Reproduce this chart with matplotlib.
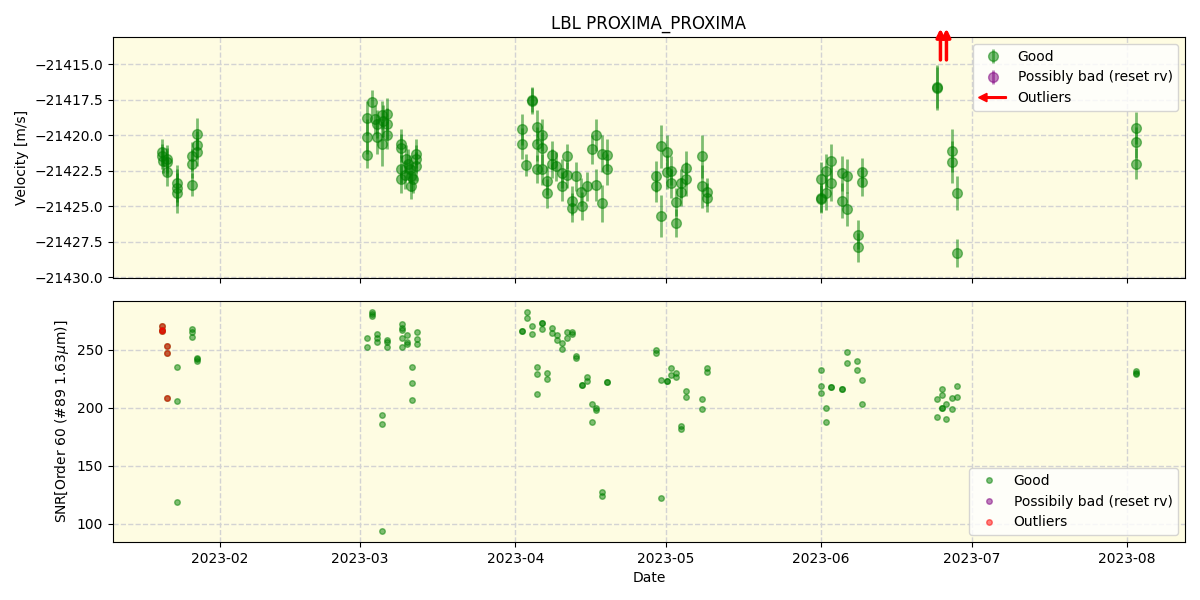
import numpy as np
import pandas as pd
import matplotlib
matplotlib.use("Agg")
import matplotlib.pyplot as plt
import matplotlib.dates as mdates
import matplotlib.transforms as mtransforms
from matplotlib.patches import FancyArrow
from matplotlib.legend_handler import HandlerPatch

BASE = "2023-01-01"

# ---- velocity panel (day offset from 2023-01-01, rv [m/s], error [m/s]) ----
rv_days = [19.4, 19.4, 19.6, 20.4, 20.4, 20.5, 22.4, 22.4, 22.4, 25.5, 25.5, 25.5, 26.4, 26.4, 26.4,
           60.3, 60.3, 60.3, 61.4, 61.9, 62.3, 62.3, 63.3, 63.3, 63.6, 64.4, 64.4, 64.4,
           67.2, 67.2, 67.2, 67.2, 67.9, 68.2, 68.5, 68.9, 69.2, 69.5, 69.2, 70.2, 70.2, 70.2,
           91.35, 91.35, 92.05, 93.25, 93.25, 94.25, 94.25, 94.25, 95.35, 95.35, 95.35, 96.35, 96.35,
           97.35, 97.35, 98.15, 99.25, 99.25, 100.25, 100.25, 101.25, 101.25, 102.15, 103.15, 103.35,
           104.25, 105.35, 106.15, 106.15, 107.25, 107.25, 108.25, 108.25,
           118.1, 118.1, 119.0, 119.0, 120.2, 120.2, 121.0, 121.1, 122.1, 122.1, 123.0, 123.1,
           124.0, 124.0, 127.2, 127.2, 128.2, 128.2,
           151.05, 151.05, 151.05, 151.95, 151.95, 153.05, 153.05, 155.15, 155.15, 156.25, 156.25,
           158.25, 158.25, 159.15, 159.15,
           174.1, 174.1, 177.1, 177.1, 178.1, 178.1,
           213.8, 213.8, 213.8]
rv_vals = [-21421.2, -21421.5, -21421.8, -21421.7, -21421.9, -21422.6, -21423.4, -21423.7, -21424.1,
           -21421.5, -21422.0, -21423.5, -21419.9, -21420.7, -21421.2,
           -21418.8, -21420.1, -21421.4, -21417.7, -21418.9, -21419.2, -21420.1, -21418.6, -21420.6,
           -21419.0, -21418.5, -21419.2, -21420.0,
           -21420.6, -21420.9, -21422.4, -21423.1, -21422.8, -21421.7, -21422.0, -21422.4, -21422.9,
           -21423.1, -21423.6, -21421.3, -21421.7, -21422.2,
           -21419.6, -21420.6, -21422.1, -21417.5, -21417.6, -21419.4, -21420.6, -21422.4,
           -21420.0, -21420.9, -21422.4, -21423.2, -21424.1,
           -21421.4, -21422.0, -21422.2, -21422.7, -21423.6, -21421.5, -21422.8, -21424.6, -21425.1,
           -21422.9, -21424.0, -21425.0,
           -21423.6, -21421.0, -21420.0, -21423.5, -21421.3, -21424.8, -21421.4, -21422.4,
           -21422.9, -21423.6, -21420.8, -21425.7, -21421.2, -21422.6, -21423.4, -21422.5,
           -21424.7, -21426.2, -21423.4, -21424.0,
           -21422.3, -21423.1, -21421.5, -21423.6, -21424.0, -21424.4,
           -21423.1, -21424.4, -21424.5, -21422.5, -21424.1, -21421.8, -21423.4, -21422.7, -21424.6,
           -21422.9, -21425.2, -21427.0, -21427.9, -21422.6, -21423.3,
           -21416.6, -21416.7, -21421.1, -21421.9, -21424.1, -21428.3,
           -21419.5, -21420.5, -21422.0]
rv_errs = [0.9, 0.9, 0.9, 1.0, 1.0, 1.0, 1.3, 1.3, 1.4, 1.0, 1.0, 0.8, 1.1, 1.0, 1.0,
           1.2, 1.2, 0.9, 0.9, 1.0, 1.0, 1.2, 1.0, 1.6, 1.1, 1.1, 1.1, 1.0,
           1.0, 1.0, 1.0, 1.0, 1.0, 1.0, 1.0, 1.0, 1.0, 1.0, 0.9, 1.0, 1.0, 1.0,
           1.1, 1.1, 0.8, 0.9, 0.9, 1.2, 1.2, 1.0, 1.1, 1.1, 1.1, 1.0, 1.0,
           1.0, 1.0, 1.0, 1.0, 1.0, 0.9, 0.9, 1.0, 1.0, 1.0, 1.0, 1.0,
           1.0, 1.0, 1.1, 1.1, 1.3, 1.3, 1.1, 1.1,
           1.1, 1.1, 1.5, 1.5, 1.2, 1.2, 1.0, 1.0, 1.0, 1.0, 1.0, 1.0,
           1.2, 1.2, 1.5, 1.5, 1.0, 1.0,
           1.2, 1.0, 1.0, 1.2, 1.2, 1.2, 1.2, 1.2, 1.2, 1.2, 1.2, 1.0, 1.0, 1.0, 1.0,
           1.5, 1.5, 1.5, 1.5, 1.2, 1.0,
           1.1, 1.1, 1.1]

# outliers above the plotted velocity range (drawn as arrows)
outlier_days = [174.8, 176.0]

# ---- SNR panel (day offset, SNR) ----
snr_days = [19.5, 19.5, 19.5, 20.5, 20.5, 20.5, 22.5, 22.5, 22.5, 25.5, 25.5, 25.5, 26.5, 26.5, 26.5,
            60.4, 60.4, 61.4, 61.4, 61.4, 62.4, 62.4, 62.4, 63.4, 63.4, 63.4, 64.4, 64.4, 64.4,
            67.3, 67.3, 67.3, 67.3, 67.3, 68.3, 68.3, 68.3, 69.3, 69.3, 69.3, 70.3, 70.3, 70.3,
            91.35, 91.35, 92.25, 92.25, 93.35, 93.35, 94.35, 94.35, 94.35, 95.35, 95.35, 95.35,
            96.35, 96.35, 97.35, 97.35, 98.35, 98.35, 99.35, 99.35, 100.35, 100.35, 101.25, 101.25,
            102.05, 102.05, 103.25, 103.25, 104.25, 104.25, 105.25, 105.25, 106.05, 106.05,
            107.25, 107.25, 108.25, 108.25,
            118.0, 118.0, 119.0, 119.0, 120.2, 120.2, 121.0, 121.0, 122.0, 122.0, 123.0, 123.0,
            124.0, 124.0, 127.2, 127.2, 128.2, 128.2,
            150.95, 150.95, 150.95, 151.95, 151.95, 152.95, 152.95, 155.15, 155.15, 156.15, 156.15,
            158.15, 158.15, 159.15, 159.15,
            174.1, 174.1, 175.1, 175.1, 175.1, 175.1, 175.9, 175.9, 177.1, 177.1, 178.1, 178.1,
            213.8, 213.8, 213.8]
snr_vals = [270.7, 267.2, 266.4, 253.4, 247.2, 208.4, 235.3, 205.8, 118.7, 268.1, 265.8, 260.9,
            243.4, 242.0, 240.5,
            260.1, 252.8, 283.0, 281.0, 279.3, 263.5, 260.1, 257.2, 194.0, 186.0, 94.0,
            258.6, 257.2, 252.3,
            272.2, 268.7, 267.2, 260.1, 252.3, 262.9, 257.2, 254.9, 235.1, 221.3, 206.6,
            265.3, 259.2, 254.9,
            266.6, 266.6, 282.5, 277.3, 270.4, 263.5, 235.1, 229.1, 211.8, 273.5, 273.5, 267.8,
            229.9, 224.7,
            268.7, 264.4, 262.9, 258.4, 255.8, 250.6, 265.3, 260.1, 265.3, 263.5, 244.6, 242.8,
            219.8, 219.8, 226.5, 223.5, 203.2, 187.7, 199.7, 198.3, 127.3, 124.4, 222.4, 222.4,
            250.0, 247.2, 224.1, 122.2, 223.3, 223.3, 234.2, 228.4, 229.9, 227.0, 184.5, 181.6,
            214.7, 209.5, 207.5, 198.9, 234.2, 230.8,
            232.5, 219.0, 212.7, 199.7, 187.7, 218.4, 218.4, 216.4, 216.4, 248.0, 238.5,
            240.5, 232.5, 224.1, 203.2,
            207.5, 192.0, 216.1, 211.2, 200.3, 200.3, 203.2, 190.3, 208.4, 198.9, 219.0, 209.2,
            231.9, 229.6, 230.5]

snr_out_days = [19.5, 19.5, 19.5, 20.5, 20.5, 20.5]
snr_out_vals = [270.7, 267.2, 266.4, 253.4, 247.2, 208.4]


def to_dates(days):
    return (pd.Timestamp(BASE) + pd.to_timedelta(np.asarray(days, dtype=float), unit="D")).to_numpy()


class HandlerArrow(HandlerPatch):
    def create_artists(self, legend, orig_handle, xdescent, ydescent, width, height, fontsize, trans):
        p = FancyArrow(width - xdescent, 0.5 * height - ydescent, -width, 0,
                       width=1.2, head_width=6, head_length=6,
                       length_includes_head=True, color="red")
        p.set_transform(trans)
        return [p]


bg = "#fefce2"
fig = plt.figure(figsize=(12, 6), dpi=100)
ax1 = fig.add_axes([0.094, 0.5367, 0.8935, 0.4016])
ax2 = fig.add_axes([0.094, 0.0967, 0.8935, 0.4016], sharex=ax1)

for ax in (ax1, ax2):
    ax.set_facecolor(bg)
    ax.grid(True, linestyle="--", color="lightgray", linewidth=1)
    ax.set_axisbelow(True)

# velocity panel
ax1.errorbar(to_dates(rv_days), rv_vals, yerr=rv_errs, fmt="o", color="green",
             ecolor="green", alpha=0.5, ms=7, elinewidth=2, label="Good")
ax1.errorbar([], [], yerr=[], fmt="o", color="purple", alpha=0.5, ms=7, elinewidth=2,
             label="Possibly bad (reset rv)")
trans = mtransforms.blended_transform_factory(ax1.transData, ax1.transAxes)
for d in to_dates(outlier_days):
    xd = mdates.date2num(d)
    ax1.annotate("", xy=(xd, 1.035), xytext=(xd, 0.905), xycoords=trans, textcoords=trans,
                 annotation_clip=False,
                 arrowprops=dict(arrowstyle="-|>", color="red", lw=2.5, mutation_scale=12,
                                 shrinkA=0, shrinkB=0))
ax1.set_ylim(-21430.05, -21413.1)
ax1.yaxis.get_major_formatter().set_useOffset(False)
ax1.set_ylabel("Velocity [m/s]")
ax1.set_title("LBL PROXIMA_PROXIMA")
h, l = ax1.get_legend_handles_labels()
arrow_proxy = FancyArrow(0, 0, 1, 0, color="red")
ax1.legend(h + [arrow_proxy], l + ["Outliers"], loc="upper right",
           handler_map={FancyArrow: HandlerArrow()})
plt.setp(ax1.get_xticklabels(), visible=False)

# SNR panel
ax2.plot(to_dates(snr_days), snr_vals, "o", color="green", alpha=0.5, ms=4, label="Good")
ax2.plot([], [], "o", color="purple", alpha=0.5, ms=4, label="Possibily bad (reset rv)")
ax2.plot(to_dates(snr_out_days), snr_out_vals, "o", color="red", alpha=0.5, ms=4, label="Outliers")
ax2.set_ylim(84.5, 292.2)
ax2.set_ylabel("SNR[Order 60 (#89 1.63$\\mu$m)]")
ax2.set_xlabel("Date")
ax2.legend(loc="lower right")

ax2.xaxis.set_major_locator(mdates.MonthLocator())
ax2.xaxis.set_major_formatter(mdates.DateFormatter("%Y-%m"))
ax2.set_xlim(pd.Timestamp(BASE) + pd.Timedelta(days=9.65), pd.Timestamp(BASE) + pd.Timedelta(days=223.6))

fig.savefig("out.png", dpi=100)
